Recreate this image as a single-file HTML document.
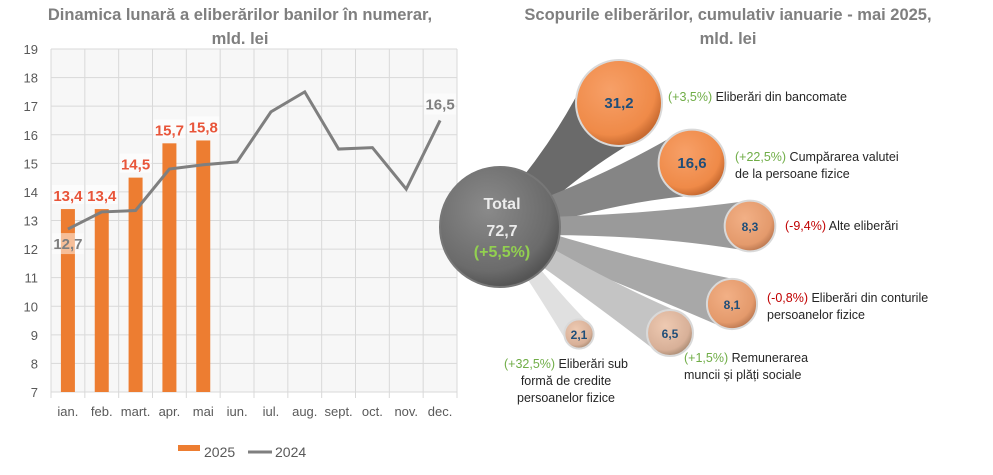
<!DOCTYPE html>
<html><head><meta charset="utf-8"><style>
body{margin:0;width:993px;height:470px;background:#fff;font-family:"Liberation Sans",sans-serif;overflow:hidden}
svg text{font-family:"Liberation Sans",sans-serif}
</style></head><body>
<svg id="c" width="993" height="470">
<defs>
<radialGradient id="gT" cx="40%" cy="35%" r="65%"><stop offset="0" stop-color="#8a8a8a"/><stop offset="0.8" stop-color="#6b6b6b"/><stop offset="1" stop-color="#555"/></radialGradient>
<radialGradient id="gO" cx="40%" cy="35%" r="65%"><stop offset="0" stop-color="#f7a068"/><stop offset="0.8" stop-color="#ef8a48"/><stop offset="1" stop-color="#c86a30"/></radialGradient>
<radialGradient id="gO2" cx="40%" cy="35%" r="65%"><stop offset="0" stop-color="#f2b086"/><stop offset="0.8" stop-color="#e49a6c"/><stop offset="1" stop-color="#c07c54"/></radialGradient>
<radialGradient id="gO3" cx="40%" cy="35%" r="65%"><stop offset="0" stop-color="#eecab2"/><stop offset="0.8" stop-color="#d8b098"/><stop offset="1" stop-color="#b09078"/></radialGradient>
</defs>
<text x="240" y="20" text-anchor="middle" font-size="16.5" font-weight="bold" fill="#7f7f7f">Dinamica lunară a eliberărilor banilor în numerar,</text>
<text x="240" y="44" text-anchor="middle" font-size="16.5" font-weight="bold" fill="#7f7f7f">mld. lei</text>
<text x="728" y="20" text-anchor="middle" font-size="16.5" font-weight="bold" fill="#7f7f7f">Scopurile eliberărilor, cumulativ ianuarie - mai 2025,</text>
<text x="728" y="44" text-anchor="middle" font-size="16.5" font-weight="bold" fill="#7f7f7f">mld. lei</text>
<rect x="51" y="49" width="406" height="343" fill="#f7f7f7"/>
<g id="grid"></g><g id="bars"></g><g id="line"></g><g id="labels"></g>
<g id="bub"></g>
<rect x="178" y="445" width="22" height="6" fill="#ed7d31"/>
<text x="204" y="457" font-size="14" fill="#595959">2025</text>
<line x1="248" y1="452" x2="272" y2="452" stroke="#7f7f7f" stroke-width="3"/>
<text x="275" y="457" font-size="14" fill="#595959">2024</text>
</svg>
<script>
const months=["ian.","feb.","mart.","apr.","mai","iun.","iul.","aug.","sept.","oct.","nov.","dec."];
const v2025=[13.4,13.4,14.5,15.7,15.8];
const v2024=[12.7,13.3,13.35,14.8,14.95,15.05,16.8,17.5,15.5,15.55,14.1,16.5];
const yTicks=[7,8,9,10,11,12,13,14,15,16,17,18,19];
const bubbleVals=[31.2,16.6,8.3,8.1,6.5,2.1];
const bubbleLbl=["31,2","16,6","8,3","8,1","6,5","2,1"];
const NS="http://www.w3.org/2000/svg";
const L=51,R=457,T=49,B=392,cw=(R-L)/12;
const y=v=>B-(v-7)/12*(B-T);
const x=i=>L+cw*(i+0.5);
function mk(t,a,p,txt){const e=document.createElementNS(NS,t);for(const k in a)e.setAttribute(k,a[k]);if(txt!==undefined)e.textContent=txt;document.getElementById(p).appendChild(e);return e;}
const fmt=v=>v.toFixed(1).replace('.',',');
yTicks.forEach(t=>{
 const g=mk('line',{x1:L,x2:R,y1:y(t),y2:y(t),stroke:'#d9d9d9'},'grid');
 
 
 const l=mk('text',{x:38,y:y(t)+5,'text-anchor':'end','font-size':13,fill:'#595959'},'grid',t);
 
 
});
for(let i=0;i<=12;i++){
 const g=mk('line',{x1:L+cw*i,x2:L+cw*i,y1:T,y2:B+6,stroke:'#d9d9d9'},'grid');
 
 
}
months.forEach((m,i)=>{
 const l=mk('text',{x:x(i),y:416,'text-anchor':'middle','font-size':13,fill:'#595959'},'grid',m);
 
 
});
v2025.forEach((v,i)=>{
 const b=mk('rect',{x:x(i)-7,y:y(v),width:14,height:B-y(v),fill:'#ed7d31'},'bars');
 
 
});
const p=mk('polyline',{points:v2024.map((v,i)=>x(i)+','+y(v)).join(' '),fill:'none',stroke:'#7f7f7f','stroke-width':3},'line');


v2025.forEach((v,i)=>{
 const bg=mk('rect',{x:x(i)-16,y:y(v)-24,width:32,height:19,fill:'#fff','fill-opacity':0.6},'labels');
 
 
 const l=mk('text',{x:x(i),y:y(v)-8,'text-anchor':'middle','font-size':15,'font-weight':'bold',fill:'#e8553a'},'labels',fmt(v));
 
 
});
[[0,v2024[0],y(v2024[0])+20],[11,v2024[11],y(v2024[11])-11]].forEach(([i,v,yy])=>{
 const bg=mk('rect',{x:x(i)-16,y:yy-16,width:32,height:21,fill:'#fff','fill-opacity':0.5},'labels');
 
 
 const l=mk('text',{x:x(i),y:yy,'text-anchor':'middle','font-size':15,'font-weight':'bold',fill:'#7f7f7f'},'labels',fmt(v));
 
 
});
// bubbles
const cx0=500,cy0=227;
const pos=[[619,103],[692,163],[750,226],[732,304],[670,333],[579,334]];
const fills=['url(#gO)','url(#gO)','url(#gO2)','url(#gO2)','url(#gO3)','url(#gO3)'];
const conn=['#6a6a6a','#858585','#9a9a9a','#a8a8a8','#c4c4c4','#e0e0e0'];
const rad=v=>Math.pow(v/31.2,0.4)*43;
pos.forEach(([bx,by],i)=>{
 const r=rad(bubbleVals[i]);const dx=bx-cx0,dy=by-cy0,d=Math.hypot(dx,dy);
 const nx=-dy/d,ny=dx/d,w0=Math.max(6,r*0.35);
 const mx=cx0+dx*0.55,my=cy0+dy*0.55;
 const c=mk('path',{d:`M${cx0+nx*w0},${cy0+ny*w0} Q${mx+nx*r*0.6},${my+ny*r*0.6+ (dy<0?-10:0)} ${bx+nx*r},${by+ny*r} L${bx-nx*r},${by-ny*r} Q${mx-nx*r*0.4},${my-ny*r*0.4} ${cx0-nx*w0},${cy0-ny*w0}Z`,fill:conn[i]},'bub');
 
 
});
const t=mk('circle',{cx:cx0,cy:cy0,r:60,fill:'url(#gT)',stroke:'#777','stroke-width':2},'bub');


[['Total',209,'#ececec'],['72,7',236,'#ececec'],['(+5,5%)',257,'#92d050']].forEach(([s,yy,f])=>{
 const l=mk('text',{x:cx0+2,y:yy,'text-anchor':'middle','font-size':16,'font-weight':'bold',fill:f},'bub',s);
 
 
});
pos.forEach(([bx,by],i)=>{
 const r=rad(bubbleVals[i]);
 const c=mk('circle',{cx:bx,cy:by,r:r,fill:fills[i],stroke:'#d9d9d9','stroke-width':2},'bub');
 
 
 const l=mk('text',{x:bx,y:by+5,'text-anchor':'middle','font-size':r>30?15:12,'font-weight':'bold',fill:'#1f4e79'},'bub',bubbleLbl[i]);
 
 
});
const desc=[
 [668,101,'start',[['(+3,5%)','Eliberări din bancomate']],'#70ad47'],
 [735,161,'start',[['(+22,5%)','Cumpărarea valutei'],['','de la persoane fizice']],'#70ad47'],
 [785,230,'start',[['(-9,4%)','Alte eliberări']],'#c00000'],
 [767,302,'start',[['(-0,8%)','Eliberări din conturile'],['','persoanelor fizice']],'#c00000'],
 [684,362,'start',[['(+1,5%)','Remunerarea'],['','muncii și plăți sociale']],'#70ad47'],
 [566,368,'middle',[['(+32,5%)','Eliberări sub'],['','formă de credite'],['','persoanelor fizice']],'#70ad47']
];
desc.forEach(([dx,dy,anc,lines,col])=>{
 lines.forEach(([pc,s],j)=>{
  const l=mk('text',{x:dx,y:dy+j*17,'text-anchor':anc,'font-size':12.5,fill:'#262626'},'bub');
  
  
  if(pc){const a=document.createElementNS(NS,'tspan');a.setAttribute('fill',col);a.textContent=pc+' ';l.appendChild(a);}
  const b=document.createElementNS(NS,'tspan');b.textContent=s;l.appendChild(b);
 });
});
</script>
</body></html>
